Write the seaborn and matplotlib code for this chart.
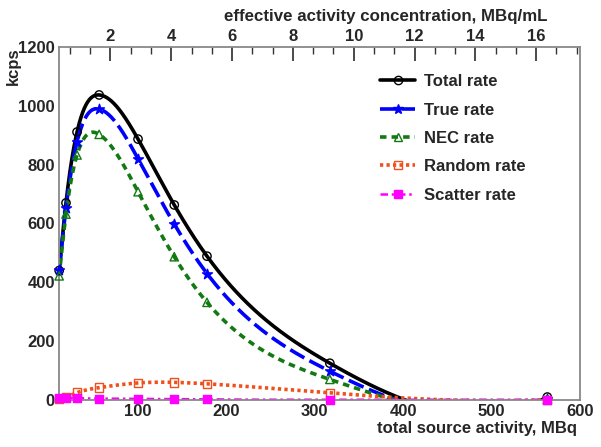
import numpy as np
import pandas as pd
import matplotlib
matplotlib.use("Agg")
import matplotlib.pyplot as plt
from matplotlib.lines import Line2D
from matplotlib.ticker import MultipleLocator
import seaborn as sns

# ---- data ----
activity = [10.8, 18.5, 31.0, 56.0, 100.0, 141.0, 178.0, 317.0, 563.0]   # MBq
total_rate = [440, 670, 911, 1037, 887, 663, 489, 125, 10]
true_rate = [442, 652, 877, 989, 820, 598, 430, 98, 2]
nec_rate = [422, 632, 833, 903, 708, 487, 332, 70, 1]
random_rate = [3, 10, 25, 42, 58, 60, 55, 24, 1]
scatter_rate = [6, 7, 6, 5, 4, 3, 2, 1, 1]
series_names = ["Total rate", "True rate", "NEC rate", "Random rate", "Scatter rate"]
volume_ml = 34.4   # MBq -> MBq/mL conversion for top axis
top_ticks = [2, 4, 6, 8, 10, 12, 14, 16]
bottom_ticks = [100, 200, 300, 400, 500, 600]
y_ticks = [0, 200, 400, 600, 800, 1000, 1200]

sns.set_theme(style="white")
plt.rcParams["font.family"] = ["Liberation Sans", "DejaVu Sans"]
plt.rcParams["font.weight"] = "bold"

XMIN, XMAX, YMIN, YMAX = 10.6, 600, 0, 1200
AX_W, AX_H = 521, 353
END_SLOPE_FACTOR = 0.6   # curve style: the smooth curve turns upward into the last point


def smooth_curve(x, y, npts=1500):
    """Cubic spline (natural start, clamped end) -- overshoot below 0 is clipped by the frame."""
    x = np.asarray(x, float); y = np.asarray(y, float)
    n = len(x); h = np.diff(x); s = np.diff(y) / h
    fpn = -END_SLOPE_FACTOR * s[-2]
    A = np.zeros((n, n)); r = np.zeros(n)
    A[0, 0] = 1
    for i in range(1, n - 1):
        A[i, i - 1] = h[i - 1]; A[i, i] = 2 * (h[i - 1] + h[i]); A[i, i + 1] = h[i]
        r[i] = 3 * (s[i] - s[i - 1])
    A[-1, -2] = h[-1]; A[-1, -1] = 2 * h[-1]; r[-1] = 3 * (fpn - s[-1])
    c = np.linalg.solve(A, r)
    b = s - h * (2 * c[:-1] + c[1:]) / 3
    d = (c[1:] - c[:-1]) / (3 * h)
    xs = np.linspace(x[0], x[-1], npts)
    idx = np.clip(np.searchsorted(x, xs) - 1, 0, n - 2)
    u = xs - x[idx]
    return xs, y[idx] + b[idx] * u + c[idx] * u ** 2 + d[idx] * u ** 3


fig = plt.figure(figsize=(6.01, 4.47), dpi=100)
ax = fig.add_axes([59 / 601, 47 / 447, AX_W / 601, AX_H / 447])

styles = [
    dict(color="black", ls="-", lw=2.6, marker="o", ms=6, mfc="none", mec="black"),
    dict(color="#0000ff", ls=(0, (4.5, 1.6)), lw=2.6, marker="*", ms=7.5, mfc="#0000ff", mec="#0000ff"),
    dict(color="#127a12", ls=(0, (1.8, 1.4)), lw=2.6, marker="^", ms=6, mfc="none", mec="#127a12"),
    dict(color="#f0501c", ls=(0, (0.9, 0.9)), lw=2.6, marker="s", ms=6, mfc="none", mec="#f0501c"),
    dict(color="#ff00ff", ls=(0, (3, 1.5, 1, 1.5)), lw=1.8, marker="s", ms=5.5, mfc="#ff00ff", mec="#ff00ff"),
]
all_series = [total_rate, true_rate, nec_rate, random_rate, scatter_rate]

handles = []
for name, vals, st in zip(series_names, all_series, styles):
    cx, cy = smooth_curve(activity, vals)
    df_curve = pd.DataFrame({"x": cx, "y": cy})
    sns.lineplot(data=df_curve, x="x", y="y", ax=ax, color=st["color"],
                 linestyle=st["ls"], linewidth=st["lw"], sort=False, estimator=None)
    df_pts = pd.DataFrame({"x": activity, "y": vals})
    sns.scatterplot(data=df_pts, x="x", y="y", ax=ax, marker=st["marker"],
                    s=st["ms"] ** 2, facecolor=st["mfc"], edgecolor=st["mec"],
                    linewidth=1.0, clip_on=False, zorder=5)
    handles.append(Line2D([], [], color=st["color"], linestyle=st["ls"], linewidth=st["lw"],
                          marker=st["marker"], markersize=st["ms"],
                          markerfacecolor=st["mfc"], markeredgecolor=st["mec"]))

ax.set_xlim(XMIN, XMAX)
ax.set_ylim(YMIN, YMAX)
ax.set_xlabel(""); ax.set_ylabel("")
ax.xaxis.set_major_locator(plt.FixedLocator(bottom_ticks))
ax.xaxis.set_minor_locator(MultipleLocator(20))
ax.yaxis.set_major_locator(plt.FixedLocator(y_ticks))
ax.yaxis.set_minor_locator(MultipleLocator(50))
ax.tick_params(axis="both", which="major", direction="in", labelsize=12, color="#333333", width=1)
ax.tick_params(axis="x", which="major", length=8, pad=3)
ax.tick_params(axis="y", which="major", length=14, pad=3)
ax.tick_params(axis="x", which="minor", direction="in", length=4, color="#333333")
ax.tick_params(axis="y", which="minor", direction="in", length=7, color="#333333")
for lab in ax.get_xticklabels() + ax.get_yticklabels():
    lab.set_fontweight("bold")
for sp in ax.spines.values():
    sp.set_color("#888888"); sp.set_linewidth(1.3)

sec = ax.secondary_xaxis("top", functions=(lambda a: a / volume_ml, lambda c: c * volume_ml))
sec.xaxis.set_major_locator(plt.FixedLocator(top_ticks))
sec.xaxis.set_minor_locator(MultipleLocator(2 / 3))
sec.tick_params(axis="x", which="major", direction="in", length=10, labelsize=12, color="#333333", pad=2)
sec.tick_params(axis="x", which="minor", direction="in", length=5, color="#333333")
for lab in sec.get_xticklabels():
    lab.set_fontweight("bold")
sec.spines["top"].set_visible(False)

fig.text(577 / 601, 1 - 429 / 447, "total source activity, MBq", ha="right", va="center",
         fontsize=12, fontweight="bold")
fig.text(547 / 601, 1 - 17 / 447, "effective activity concentration, MBq/mL", ha="right",
         va="center", fontsize=12.2, fontweight="bold")
fig.text(13 / 601, 1 - 47 / 447, "kcps", rotation=90, ha="center", va="top",
         fontsize=12, fontweight="bold")

leg = ax.legend(handles, series_names, frameon=False, loc="upper left",
                bbox_to_anchor=(372 / 601, 1 - 66 / 447), bbox_transform=fig.transFigure,
                borderpad=0, handlelength=2.1, handletextpad=0.5, labelspacing=0.8,
                prop={"size": 12, "weight": "bold"})

fig.savefig("out.png", dpi=100)
